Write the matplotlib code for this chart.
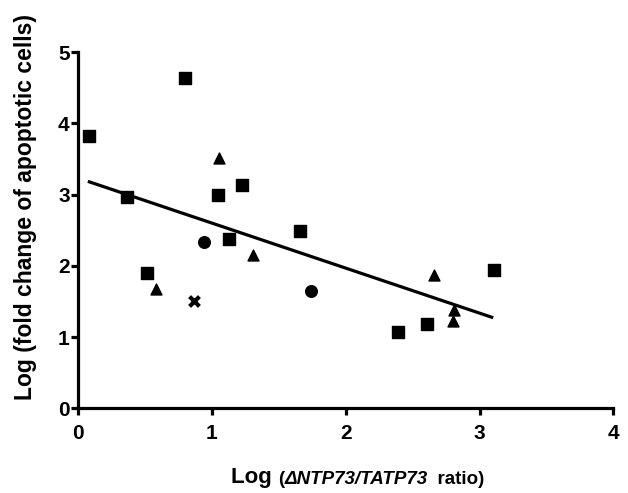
import matplotlib
matplotlib.use("Agg")
import matplotlib.pyplot as plt
from matplotlib.offsetbox import TextArea, HPacker, AnchoredOffsetbox

plt.rcParams["font.family"] = ["Liberation Sans", "DejaVu Sans"]
plt.rcParams["font.weight"] = "bold"

# data (log ratio, log fold change)
sq_x = [0.085, 0.80, 0.367, 0.512, 1.047, 1.226, 1.131, 1.66, 2.39, 2.61, 3.11]
sq_y = [3.83, 4.64, 2.97, 1.90, 3.00, 3.14, 2.38, 2.49, 1.07, 1.19, 1.94]
tri_x = [1.056, 0.582, 1.306, 2.66, 2.81, 2.80]
tri_y = [3.51, 1.67, 2.15, 1.87, 1.38, 1.23]
circ_x = [0.94, 1.74]
circ_y = [2.34, 1.65]
cross_x = [0.864]
cross_y = [1.51]
fit_x = [0.085, 3.09]
fit_y = [3.18, 1.28]

fig = plt.figure(figsize=(6.28, 4.93), dpi=100)
ax = fig.add_axes([0.1242, 0.1716, 0.8527, 0.7225])

ax.plot(fit_x, fit_y, "-", color="black", lw=2.3, zorder=2)
ax.scatter(sq_x, sq_y, marker="s", s=68, color="black", zorder=3)
ax.scatter(tri_x, tri_y, marker="^", s=62, color="black", zorder=3)
ax.scatter(circ_x, circ_y, marker="o", s=70, color="black", zorder=3)
ax.scatter(cross_x, cross_y, marker="x", s=50, color="black", linewidths=3, zorder=3)

ax.set_xlim(0, 4)
ax.set_ylim(0, 5)
ax.set_xticks([0, 1, 2, 3, 4])
ax.set_yticks([0, 1, 2, 3, 4, 5])
for s in ["top", "right"]:
    ax.spines[s].set_visible(False)
for s in ["left", "bottom"]:
    ax.spines[s].set_linewidth(2.3)
ax.tick_params(direction="out", width=2.3, length=5, labelsize=15)
ax.tick_params(axis="y", pad=1)
ax.tick_params(axis="x", pad=6)
for lab in ax.get_xticklabels() + ax.get_yticklabels():
    lab.set_fontweight("bold")

fig.text(26 / 628, 1 - 207 / 493, "Log (fold change of apoptotic cells)",
         rotation=90, ha="center", va="center", fontsize=16.5, fontweight="bold")

# x label built from pieces: big "Log", smaller bracket part with italic gene names
parts = [
    TextArea("Log ", textprops=dict(fontsize=16, fontweight="bold")),
    TextArea("(", textprops=dict(fontsize=13.5, fontweight="bold")),
    TextArea("\u0394NTP73/TATP73", textprops=dict(fontsize=13.5, fontweight="bold", style="italic")),
    TextArea("  ratio)", textprops=dict(fontsize=13.5, fontweight="bold")),
]
box = HPacker(children=parts, align="baseline", pad=0, sep=0)
anch = AnchoredOffsetbox(loc="center", child=box, frameon=False,
                         bbox_to_anchor=(358 / 628, 1 - 478 / 493),
                         bbox_transform=fig.transFigure, borderpad=0)
fig.add_artist(anch)

fig.savefig("out.png", dpi=100)
